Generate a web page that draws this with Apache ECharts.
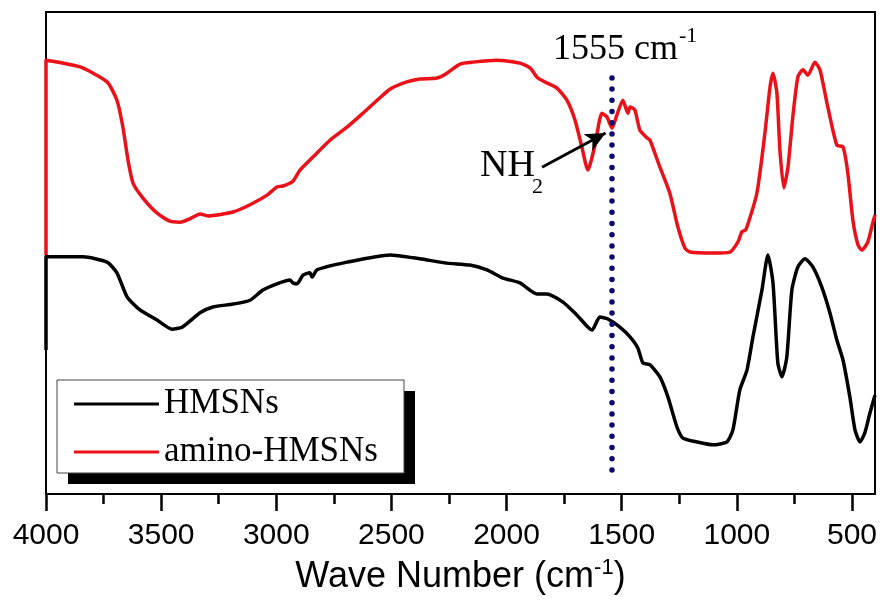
<!DOCTYPE html>
<html>
<head>
<meta charset="utf-8">
<title>FTIR HMSNs</title>
<script src="https://cdn.jsdelivr.net/npm/echarts@6/dist/echarts.min.js"></script>
<style>
  html, body { margin: 0; padding: 0; background: #fff; }
  #chart { width: 880px; height: 601px; }
</style>
</head>
<body>
<div id="chart"></div>
<script>
// wave numbers (cm-1) and transmittance (a.u.)
const waveAmino = [4000, 4000, 3852, 3735, 3692, 3666, 3644, 3622, 3579, 3518, 3462, 3418, 3375, 3331, 3297, 3188, 3114, 3040, 2997, 2971, 2928, 2897, 2841, 2767, 2693, 2624, 2550, 2506, 2433, 2376, 2302, 2259, 2202, 2146, 2042, 1942, 1898, 1864, 1825, 1781, 1738, 1703, 1673, 1647, 1616, 1586, 1564, 1542, 1521, 1495, 1473, 1464, 1443, 1421, 1390, 1377, 1334, 1291, 1256, 1225, 1204, 1104, 1030, 995, 978, 961, 913, 878, 856, 843, 826, 813, 796, 778, 757, 735, 713, 691, 661, 639, 605, 566, 539, 518, 496, 474, 457, 431, 409, 400]
const transAmino = [49.6, 90.0, 88.6, 85.5, 81.7, 76.1, 69.3, 64.5, 61.4, 58.3, 56.6, 56.4, 57.1, 58.1, 57.7, 58.5, 60.0, 62.0, 63.7, 63.9, 64.9, 67.2, 69.9, 73.4, 76.1, 79.0, 82.2, 84.0, 85.5, 86.1, 86.3, 87.3, 89.2, 89.6, 90.0, 89.4, 88.4, 86.3, 85.3, 84.2, 81.7, 77.6, 72.0, 67.2, 72.4, 79.0, 78.2, 75.9, 78.6, 81.7, 79.0, 80.3, 79.7, 75.5, 73.9, 73.4, 67.8, 62.4, 55.4, 51.0, 50.2, 50.0, 50.2, 52.3, 54.4, 54.8, 62.4, 74.9, 84.4, 87.3, 83.2, 71.4, 63.5, 67.8, 78.2, 86.5, 88.0, 86.9, 89.6, 88.0, 80.3, 72.4, 72.0, 66.6, 56.8, 51.7, 50.6, 52.3, 56.4, 57.9]

const waveHmsn = [4000, 4000, 3839, 3735, 3692, 3648, 3592, 3518, 3453, 3409, 3331, 3275, 3188, 3114, 3058, 2997, 2941, 2928, 2910, 2884, 2854, 2845, 2823, 2693, 2506, 2376, 2259, 2159, 2085, 2016, 1942, 1868, 1825, 1755, 1694, 1629, 1595, 1560, 1508, 1464, 1430, 1408, 1377, 1334, 1299, 1260, 1234, 1173, 1104, 1043, 1017, 987, 956, 930, 891, 865, 843, 822, 804, 783, 761, 735, 704, 670, 631, 596, 566, 539, 509, 487, 465, 444, 422, 400]
const transHmsn = [29.9, 49.2, 49.2, 48.1, 45.9, 40.9, 38.2, 36.1, 34.2, 34.6, 37.6, 38.8, 39.4, 40.2, 42.3, 43.6, 44.4, 43.8, 43.6, 45.4, 45.9, 45.0, 46.5, 48.1, 49.6, 48.8, 47.9, 47.5, 46.5, 44.8, 43.8, 41.5, 41.5, 39.8, 37.1, 34.0, 36.7, 36.3, 34.6, 32.6, 30.3, 27.2, 26.8, 24.3, 20.1, 13.9, 11.6, 10.8, 10.2, 10.8, 13.3, 21.6, 25.7, 32.6, 42.3, 49.6, 43.8, 27.2, 24.3, 28.4, 42.3, 47.1, 48.8, 47.1, 42.9, 37.6, 32.0, 27.8, 20.1, 13.3, 10.8, 12.7, 16.8, 20.5]

const tickValues = [4000, 3500, 3000, 2500, 2000, 1500, 1000, 500]
const minorTickValues = [3750, 3250, 2750, 2250, 1750, 1250, 750]

// annotations (data units)
const peakLine = [[1545, 5], [1545, 87.3]]
const nhArrow = [[1846, 67.8], [1570, 74.9]]

const chart = echarts.init(document.getElementById('chart'))

const zip = (xs, ys) => xs.map((x, i) => [x, ys[i]])

const axisBase = {
  type: 'value',
  inverse: true,
  min: 400,
  max: 4000,
  position: 'bottom',
  offset: 0,
  splitLine: { show: false }
}

const option = {
  animation: false,
  grid: {
    left: 46,
    right: 5,
    top: 12,
    bottom: 107,
    show: true,
    borderColor: '#000',
    borderWidth: 2,
    backgroundColor: 'transparent'
  },
  legend: {
    orient: 'vertical',
    left: 74,
    top: 384,
    padding: 0,
    itemWidth: 85,
    itemHeight: 3,
    itemGap: 8,
    itemTextGap: 8,
    icon: 'rect',
    selectedMode: false,
    textStyle: {
      fontFamily: 'Liberation Serif',
      fontSize: 35,
      lineHeight: 40,
      color: '#000'
    },
    data: ['HMSNs', 'amino-HMSNs']
  },
  xAxis: [
    {
      ...axisBase,
      axisLine: { show: true, lineStyle: { color: '#000', width: 2 } },
      axisTick: {
        show: true,
        inside: false,
        length: 17,
        customValues: tickValues,
        lineStyle: { color: '#000', width: 2.5 }
      },
      axisLabel: {
        customValues: tickValues,
        formatter: v => String(v),
        margin: 27,
        fontFamily: 'Liberation Sans',
        fontSize: 30,
        color: '#000'
      },
      name: '{a|Wave Number (cm}{b|-1}{a|)}',
      nameLocation: 'middle',
      nameGap: 63,
      nameTextStyle: {
        rich: {
          a: { fontFamily: 'Liberation Sans', fontSize: 36, lineHeight: 40, color: '#000' },
          b: { fontFamily: 'Liberation Sans', fontSize: 22, lineHeight: 34, verticalAlign: 'top', color: '#000' }
        }
      }
    },
    {
      ...axisBase,
      axisLine: { show: false },
      axisTick: {
        show: true,
        inside: false,
        length: 10,
        customValues: minorTickValues,
        lineStyle: { color: '#000', width: 2.5 }
      },
      axisLabel: { show: false }
    }
  ],
  yAxis: {
    type: 'value',
    min: 0,
    max: 100,
    show: false
  },
  series: [
    {
      name: 'HMSNs',
      type: 'line',
      xAxisIndex: 0,
      data: zip(waveHmsn, transHmsn),
      symbol: 'none',
      smooth: 0.2,
      lineStyle: { color: '#000', width: 3.5, join: 'round' },
      itemStyle: { color: '#000' },
      markLine: {
        silent: true,
        symbol: 'none',
        label: { show: false },
        lineStyle: { color: '#0b0b72', width: 5.5, type: [0, 11.2], cap: 'round' },
        data: [[{ coord: peakLine[0] }, { coord: peakLine[1] }]]
      }
    },
    {
      name: 'amino-HMSNs',
      type: 'line',
      xAxisIndex: 0,
      data: zip(waveAmino, transAmino),
      symbol: 'none',
      smooth: 0.2,
      lineStyle: { color: '#ec1018', width: 3.5, join: 'round' },
      itemStyle: { color: '#ec1018' },
      markLine: {
        silent: true,
        symbol: ['none', 'arrow'],
        symbolSize: [14, 20],
        label: { show: false },
        lineStyle: { color: '#000', width: 3, type: 'solid' },
        data: [[{ coord: nhArrow[0] }, { coord: nhArrow[1] }]]
      }
    }
  ],
  graphic: [
    // legend frame with its hard black drop shadow
    {
      type: 'rect', z: 1,
      shape: { x: 68, y: 391, width: 347, height: 93 },
      style: { fill: '#000' }
    },
    {
      type: 'rect', z: 2,
      shape: { x: 57, y: 380, width: 347, height: 93 },
      style: { fill: '#fff', stroke: '#444', lineWidth: 1 }
    },
    {
      type: 'text', x: 553, y: 50,
      style: { text: '1555 cm', font: '36px "Liberation Serif"', fill: '#000', textAlign: 'left', textVerticalAlign: 'middle' }
    },
    {
      type: 'text', x: 679, y: 36,
      style: { text: '-1', font: '22px "Liberation Serif"', fill: '#000', textAlign: 'left', textVerticalAlign: 'middle' }
    },
    {
      type: 'text', x: 480, y: 166,
      style: { text: 'NH', font: '38px "Liberation Serif"', fill: '#000', textAlign: 'left', textVerticalAlign: 'middle' }
    },
    {
      type: 'text', x: 532, y: 187,
      style: { text: '2', font: '22px "Liberation Serif"', fill: '#000', textAlign: 'left', textVerticalAlign: 'middle' }
    }
  ]
}

chart.setOption(option)
</script>
</body>
</html>
